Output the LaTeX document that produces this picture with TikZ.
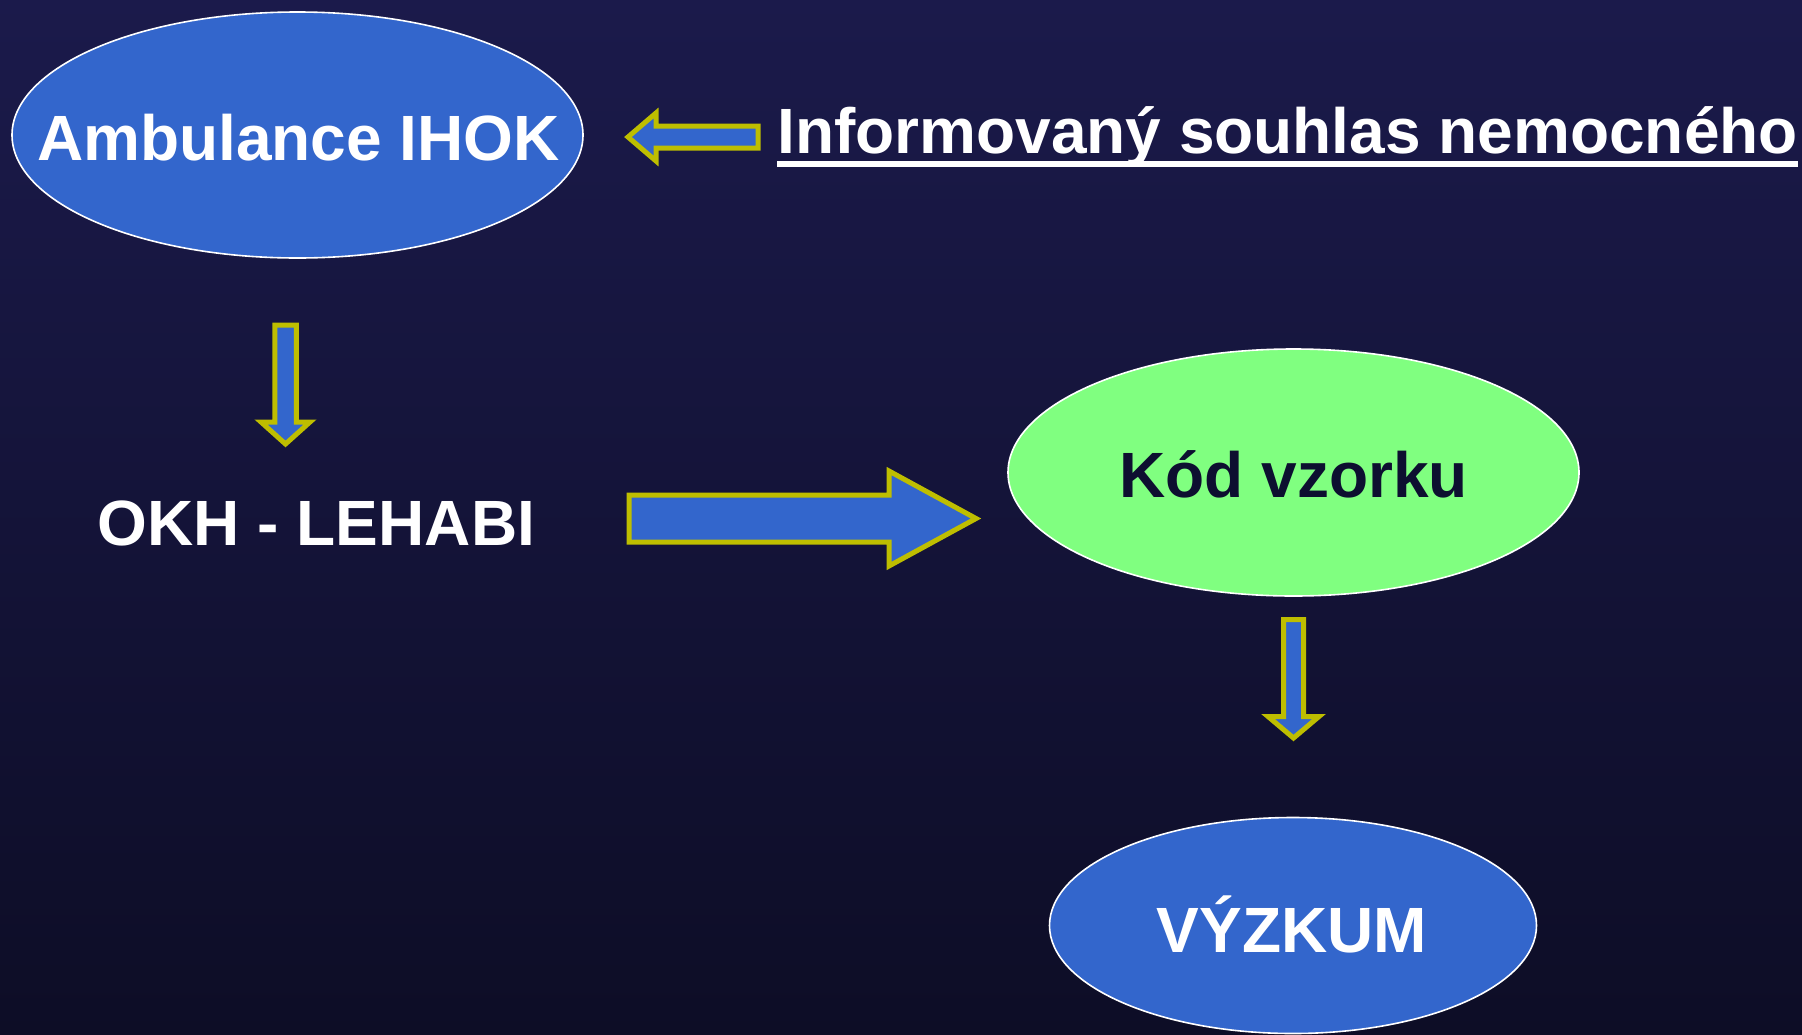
\documentclass[tikz,border=0pt]{standalone}
\usepackage{fontspec}
\setmainfont{Liberation Sans}
\usetikzlibrary{shapes.geometric}
\definecolor{bgtop}{RGB}{27,26,75}
\definecolor{bgbot}{RGB}{13,13,38}
\definecolor{boxblue}{RGB}{51,102,204}
\definecolor{arrowyellow}{RGB}{190,190,0}
\definecolor{boxgreen}{RGB}{128,255,128}
\definecolor{darktext}{RGB}{13,15,48}
\tikzset{
  oval/.style={ellipse, draw=white, line width=1.6pt, inner sep=0pt},
  bigtxt/.style={font=\fontsize{64}{76}\selectfont\bfseries, inner sep=0pt, anchor=base},
  blockarrow/.style={fill=boxblue, draw=arrowyellow, line width=5pt, line join=miter},
}
% #1 x centre, #2 top, #3 head base, #4 tip, #5 shaft half width, #6 head half width
\newcommand\blockdown[6]{%
  \draw[blockarrow] (#1-#5,#2) -- (#1+#5,#2) -- (#1+#5,#3) -- (#1+#6,#3) -- (#1,#4)
    -- (#1-#6,#3) -- (#1-#5,#3) -- cycle;}
\begin{document}
\begin{tikzpicture}[x=1pt,y=-1pt]
  \useasboundingbox (0,0) rectangle (1802,1034);
  \shade[top color=bgtop, bottom color=bgbot] (0,0) rectangle (1802,1034);

  % nodes
  \node[oval, fill=boxblue, minimum width=571, minimum height=246] (amb) at (297.5,135) {};
  \node[bigtxt, text=white] (ambt) at (298.5,160) {Ambulance IHOK};

  \node[bigtxt, text=white, anchor=base west] (inf) at (777,153) {Informovaný souhlas nemocného};
  \draw[white, line width=6.5pt] ([yshift=-11pt]inf.base west) -- ([yshift=-11pt]inf.base east);

  \node[bigtxt, text=white] (okh) at (316.5,545) {OKH - LEHABI};

  \node[oval, fill=boxgreen, minimum width=571, minimum height=247] (kod) at (1293.5,472.5) {};
  \node[bigtxt, text=darktext] (kodt) at (1293.5,497) {Kód vzorku};

  \node[oval, fill=boxblue, minimum width=487, minimum height=216] (vyz) at (1293,925.5) {};
  \node[bigtxt, text=white] (vyzt) at (1292,952) {VÝZKUM};

  % block arrows
  \draw[blockarrow] (628,137) -- (656,113) -- (656,126) -- (758,126) -- (758,148)
    -- (656,148) -- (656,161) -- cycle;
  \blockdown{285.5}{325}{422}{444}{10.75}{24.5}
  \draw[blockarrow] (629,495) -- (889,495) -- (889,471) -- (976,518.5) -- (889,566)
    -- (889,542) -- (629,542) -- cycle;
  \blockdown{1293.5}{619.5}{716.5}{738}{10}{25.5}
\end{tikzpicture}
\end{document}
